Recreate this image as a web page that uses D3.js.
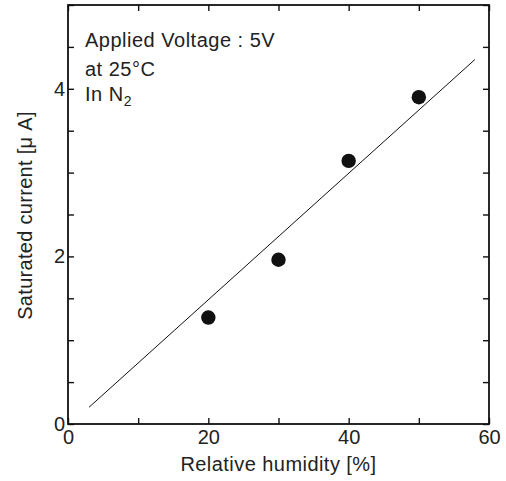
<!DOCTYPE html>
<html>
<head>
<meta charset="utf-8">
<script src="https://d3js.org/d3.v7.min.js"></script>
<style>
	html, body { margin: 0; padding: 0; background: #fff; }
	svg { display: block; font-family: "Liberation Sans", Arial, sans-serif; }
</style>
</head>
<body>
<div id="chart"></div>
<script>
document.addEventListener("DOMContentLoaded", init, false);

// measured points
var humidity = [20, 30, 40, 50];
var current = [1.27, 1.96, 3.14, 3.90];

// fitted line, two ends
var fitX = [3, 58];
var fitY = [0.2, 4.35];

var xTicks = [0, 10, 20, 30, 40, 50, 60];
var xLabels = [0, 20, 40, 60];
var yTicks = [0, 0.5, 1, 1.5, 2, 2.5, 3, 3.5, 4, 4.5, 5];
var yLabels = [0, 2, 4];

var noteLines = ['Applied Voltage : 5V', 'at 25\u00B0C', 'In N'];

function init() {
	var width = 506, height = 481;
	var left = 68, right = 489, top = 5, bottom = 424;

	var svg = d3.select('#chart').append('svg')
		.attr('width', width)
		.attr('height', height);

	var x = d3.scaleLinear().domain([0, 60]).range([left, right]);
	var y = d3.scaleLinear().domain([0, 5]).range([bottom, top]);

	var fmtX = function(d) { return xLabels.indexOf(d) >= 0 ? d : ''; };
	var fmtY = function(d) { return yLabels.indexOf(d) >= 0 ? d : ''; };

	// axes, ticks pointing inward
	var gx = svg.append('g').attr('transform', 'translate(0,' + bottom + ')')
		.call(d3.axisBottom(x).tickValues(xTicks).tickFormat(fmtX).tickSize(-6).tickPadding(6));
	var gxTop = svg.append('g').attr('transform', 'translate(0,' + top + ')')
		.call(d3.axisTop(x).tickValues(xTicks).tickFormat('').tickSize(-6));
	var gy = svg.append('g').attr('transform', 'translate(' + left + ',0)')
		.call(d3.axisLeft(y).tickValues(yTicks).tickFormat(fmtY).tickSize(-6).tickPadding(3));
	var gyRight = svg.append('g').attr('transform', 'translate(' + right + ',0)')
		.call(d3.axisRight(y).tickValues(yTicks).tickFormat('').tickSize(-6));

	[gx, gxTop, gy, gyRight].forEach(function(g) {
		g.select('.domain').remove();
		g.selectAll('.tick line').attr('stroke', '#111').attr('stroke-width', 1.4);
		g.selectAll('.tick text')
			.attr('fill', '#222')
			.style('font-size', '20px')
			.style('font-family', '"Liberation Sans", Arial, sans-serif');
	});

	svg.append('rect')
		.attr('x', left)
		.attr('y', top)
		.attr('width', right - left)
		.attr('height', bottom - top)
		.attr('fill', 'none')
		.attr('stroke', '#111')
		.attr('stroke-width', 1.8);

	// fit line
	var fit = fitX.map(function(d, i) { return [d, fitY[i]]; });
	svg.append('path')
		.datum(fit)
		.attr('d', d3.line().x(function(d) { return x(d[0]); }).y(function(d) { return y(d[1]); }))
		.attr('fill', 'none')
		.attr('stroke', '#111')
		.attr('stroke-width', 1);

	// data dots
	svg.selectAll('circle.pt')
		.data(humidity)
		.enter().append('circle')
		.attr('class', 'pt')
		.attr('cx', function(d) { return x(d); })
		.attr('cy', function(d, i) { return y(current[i]); })
		.attr('r', 7.2)
		.attr('fill', '#111');

	// annotation
	var noteY = [47, 76, 101];
	var note = svg.append('g')
		.attr('fill', '#222')
		.style('font-size', '20px')
		.style('letter-spacing', '0.5px');
	noteLines.forEach(function(t, i) {
		note.append('text')
			.attr('x', 85)
			.attr('y', noteY[i])
			.text(t);
	});
	var lastLine = note.selectAll('text').filter(function(d, i) { return i === 2; });
	lastLine.append('tspan')
		.attr('dy', 5)
		.style('font-size', '14px')
		.text('2');

	// axis titles
	svg.append('text')
		.attr('x', (left + right) / 2)
		.attr('y', 470.5)
		.attr('text-anchor', 'middle')
		.attr('fill', '#222')
		.style('font-size', '20px')
		.style('letter-spacing', '0.45px')
		.text('Relative humidity [%]');

	svg.append('text')
		.attr('transform', 'translate(32,' + ((top + bottom) / 2 + 1) + ') rotate(-90)')
		.attr('text-anchor', 'middle')
		.attr('fill', '#222')
		.style('font-size', '20px')
		.style('letter-spacing', '0.3px')
		.text('Saturated current [\u03BC A]');
}
</script>
</body>
</html>
